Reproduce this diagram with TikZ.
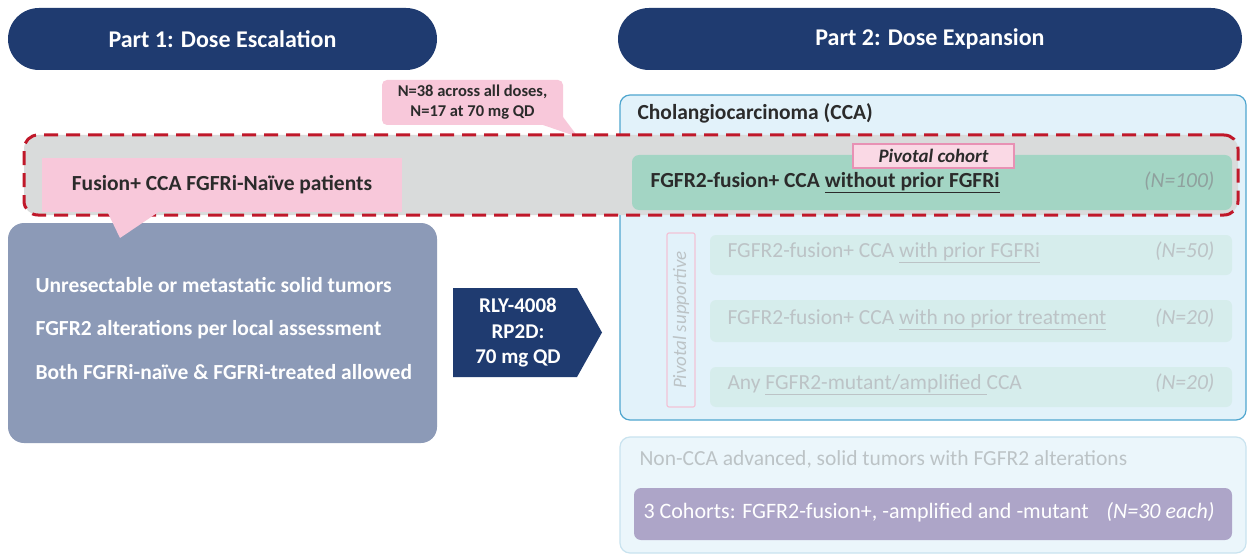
\documentclass[tikz,border=0pt]{standalone}
\usepackage{fontspec}
\setmainfont{Carlito}
\usetikzlibrary{calc}
\definecolor{navy}{HTML}{1F3B70}
\definecolor{bluegray}{HTML}{8C9AB7}
\definecolor{pinkf}{HTML}{F8C8DA}
\definecolor{pinkb}{HTML}{E891B4}
\definecolor{redd}{HTML}{C0182A}
\definecolor{grayb}{HTML}{D9DBDB}
\definecolor{ccaf}{HTML}{E2F2FA}
\definecolor{ccab}{HTML}{4FA6CF}
\definecolor{greenf}{HTML}{A3D5C4}
\definecolor{rowf}{HTML}{D6EDEC}
\definecolor{fadet}{HTML}{BCC3C6}
\definecolor{nonf}{HTML}{EBF6FB}
\definecolor{nonb}{HTML}{C9E3EF}
\definecolor{purp}{HTML}{ADA5C8}
\definecolor{darkt}{HTML}{2B2B2B}
\definecolor{ngray}{HTML}{8FA19E}
\definecolor{supb}{HTML}{F2C3D6}
\tikzset{
  blk/.style={inner sep=0pt, outer sep=0pt},
  pill/.style={blk, fill=navy, rounded corners=31pt, minimum height=62pt},
  hdr/.style={font=\fontsize{24}{28}\selectfont\bfseries, text=white},
  wt/.style={anchor=mid west, font=\fontsize{21.5}{25}\selectfont\bfseries, text=white},
  rowbox/.style={blk, fill=rowf, rounded corners=6pt, minimum width=522pt},
  rowt/.style={anchor=mid west, font=\fontsize{21.5}{25}\selectfont, text=fadet},
  nt/.style={anchor=mid east, font=\fontsize{21.5}{25}\selectfont\itshape, text=fadet},
}
\begin{document}
\begin{tikzpicture}[x=1pt,y=-1pt]
\useasboundingbox (0,0) rectangle (1249,556);
\fill[white] (0,0) rectangle (1249,556);
% headers
\node[pill, minimum width=429pt] (p1) at (222.5,39) {};
\node[hdr] (p1t) at (p1.center) {Part 1: Dose Escalation};
\node[pill, minimum width=624pt] (p2) at (930,39) {};
\node[hdr] (p2t) at (p2.center) {Part 2: Dose Expansion};
% callout N=38
\node[blk, fill=pinkf, rounded corners=5pt, minimum width=181pt, minimum height=45pt] (call) at (472.5,102.5) {};
\coordinate (calltip) at (578,137);
\fill[pinkf] ($(call.south east)+(-20,0)$) -- ($(call.south east)+(0,-8)$) -- (calltip) -- cycle;
\node[font=\fontsize{16.5}{20}\selectfont\bfseries, text=darkt, align=center] (callt) at (call.center) {N=38 across all doses,\\N=17 at 70 mg QD};
% CCA box
\node[blk, draw=ccab, line width=1.2pt, fill=ccaf, rounded corners=10pt, minimum width=626pt, minimum height=325pt] (cca) at (933,257.5) {};
\node[anchor=mid west, font=\fontsize{21.5}{25}\selectfont\bfseries, text=darkt] (ccat) at (634,117) {Cholangiocarcinoma (CCA)};
% dashed highlight
\node[blk, fill=grayb, draw=redd, line width=3pt, dash pattern=on 14pt off 8pt, rounded corners=14pt, minimum width=1214pt, minimum height=80pt] (dash) at (631,175) {};
% green pivotal row
\node[blk, fill=greenf, rounded corners=7pt, minimum width=600pt, minimum height=55pt] (green) at (932,182.5) {};
\node[anchor=mid west, font=\fontsize{21.5}{25}\selectfont\bfseries, text=darkt] (greent) at (647,185) {FGFR2-fusion+ CCA \underline{without prior FGFRi}};
\node[anchor=mid east, font=\fontsize{21.5}{25}\selectfont\itshape, text=ngray] (greenn) at (1218,185) {(N=100)};
\node[blk, fill=pinkf!70!white, draw=pinkb, line width=1.2pt, minimum width=161pt, minimum height=24pt] (pc) at (933.5,156) {};
\node[font=\fontsize{19}{22}\selectfont\bfseries\itshape, text=darkt] (pct) at (pc.center) {Pivotal cohort};
% Part 1 boxes
\node[blk, fill=pinkf, minimum width=360pt, minimum height=54pt] (fus) at (222,185) {};
\node[font=\fontsize{21.5}{25}\selectfont\bfseries, text=darkt] (fust) at (fus.center) {Fusion+ CCA FGFRi-Naïve patients};
\node[blk, fill=bluegray, rounded corners=16pt, minimum width=429pt, minimum height=220pt] (bg) at (222.5,333) {};
\coordinate (fustip) at (120,238);
\fill[pinkf] (107,211) -- (160,211) -- (fustip) -- cycle;
\node[wt] (l1) at (32,290) {Unresectable or metastatic solid tumors};
\node[wt] (l2) at (32,333) {FGFR2 alterations per local assessment};
\node[wt] (l3) at (32,377) {Both FGFRi-naïve \& FGFRi-treated allowed};
% drug arrow
\fill[navy] (453,288) -- (577,288) -- (602,332.5) -- (577,377) -- (453,377) -- cycle;
\node[font=\fontsize{21}{25.5}\selectfont\bfseries, text=white, align=center] (drug) at (518,333) {RLY-4008\\RP2D:\\70 mg QD};
% pivotal supportive
\node[blk, draw=supb, line width=1.2pt, rounded corners=2pt, rotate=90, minimum width=174pt, minimum height=28pt] (ps) at (681,320) {};
\node[rotate=90, font=\fontsize{19}{22}\selectfont\itshape, text=fadet] (pst) at (ps.center) {Pivotal supportive};
\node[rowbox, minimum height=40pt] (r1) at (971,255) {};
\node[rowbox, minimum height=42pt] (r2) at (971,321) {};
\node[rowbox, minimum height=40pt] (r3) at (971,387) {};
\node[rowt] (r1t) at (724,255) {FGFR2-fusion+ CCA \underline{with prior FGFRi}};
\node[nt] (r1n) at (1218,255) {(N=50)};
\node[rowt] (r2t) at (724,322) {FGFR2-fusion+ CCA \underline{with no prior treatment}};
\node[nt] (r2n) at (1218,322) {(N=20)};
\node[rowt] (r3t) at (724,387) {Any \underline{FGFR2-mutant/amplified }CCA};
\node[nt] (r3n) at (1218,387) {(N=20)};
% non-CCA
\node[blk, fill=nonf, draw=nonb, line width=1.2pt, rounded corners=10pt, minimum width=626pt, minimum height=116pt] (non) at (933,495) {};
\node[rowt] (nont) at (636,463) {Non-CCA advanced, solid tumors with FGFR2 alterations};
\node[blk, fill=purp, rounded corners=7pt, minimum width=598pt, minimum height=52pt] (pu) at (933,514) {};
\node[anchor=mid west, font=\fontsize{22}{26}\selectfont, text=white] (put) at (640,516) {3 Cohorts: FGFR2-fusion+, -amplified and -mutant};
\node[anchor=mid east, font=\fontsize{22}{26}\selectfont\itshape, text=white] (pun) at (1218,516) {(N=30 each)};
\end{tikzpicture}
\end{document}
